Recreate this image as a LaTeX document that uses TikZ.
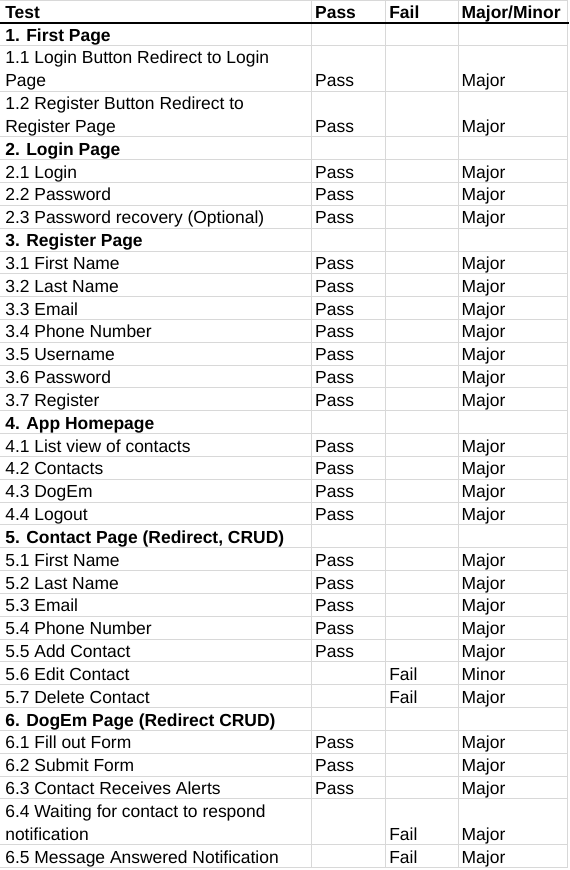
\documentclass[tikz,border=0pt]{standalone}
\usepackage{fontspec}
\setmainfont{Liberation Sans}
\definecolor{gridc}{RGB}{216,216,216}
\newcommand\Yb[1]{22.7+#1*22.83}
\tikzset{
  cell/.style={anchor=base west,inner sep=0pt,outer sep=0pt,align=left,
    font=\fontsize{17.45}{22.83}\selectfont,text=black},
  hcell/.style={cell,font=\fontsize{17.45}{22.83}\selectfont\bfseries},
  gridline/.style={draw=gridc,line width=1pt},
  headline/.style={draw=black,line width=2pt}
}
% section heading row
\newcommand\sect[3]{\node[hcell] (#1) at (5.3,{\Yb{#2}-4.4}) {#3};}
% pass row
\newcommand\prow[4]{%
  \node[cell] (#1t) at (5.3,{\Yb{#2}-4.4}) {#3};
  \node[cell] (#1p) at (315.2,{\Yb{#2}-4.4}) {Pass};
  \node[cell] (#1m) at (461.7,{\Yb{#2}-4.4}) {#4};}
% fail row
\newcommand\frow[4]{%
  \node[cell] (#1t) at (5.3,{\Yb{#2}-4.4}) {#3};
  \node[cell] (#1f) at (389.3,{\Yb{#2}-4.4}) {Fail};
  \node[cell] (#1m) at (461.7,{\Yb{#2}-4.4}) {#4};}
\begin{document}
\begin{tikzpicture}[x=1pt,y=-1pt]
\useasboundingbox (0,0) rectangle (570,870);
\fill[white] (0,0) rectangle (570,870);
% grid
\draw[gridline] (0,0.5) -- (567.7,0.5);
\foreach \k in {1,3,5,6,7,...,34,36,37}{
  \draw[gridline] (0,{\Yb{\k}}) -- (567.7,{\Yb{\k}});
}
\foreach \x in {311.7,385.7,458.3,567.7}{
  \draw[gridline] (\x,0) -- (\x,{\Yb{37}+0.5});
}
\draw[headline] (0,22.7) -- (568.5,22.7);
% header
\node[hcell] (hTest) at (5.3,18.3) {Test};
\node[hcell] (hPass) at (315.2,18.3) {Pass};
\node[hcell] (hFail) at (389.3,18.3) {Fail};
\node[hcell] (hMM) at (461.7,18.3) {Major/Minor};
% 1
\sect{s1}{1}{1. First Page}
\node[cell] (r11t) at (5.3,{\Yb{3}-4.4}) {1.1 Login Button Redirect to Login\\Page};
\node[cell] (r11p) at (315.2,{\Yb{3}-4.4}) {Pass};
\node[cell] (r11m) at (461.7,{\Yb{3}-4.4}) {Major};
\node[cell] (r12t) at (5.3,{\Yb{5}-4.4}) {1.2 Register Button Redirect to\\Register Page};
\node[cell] (r12p) at (315.2,{\Yb{5}-4.4}) {Pass};
\node[cell] (r12m) at (461.7,{\Yb{5}-4.4}) {Major};
% 2
\sect{s2}{6}{2. Login Page}
\prow{r21}{7}{2.1 Login}{Major}
\prow{r22}{8}{2.2 Password}{Major}
\prow{r23}{9}{2.3 Password recovery (Optional)}{Major}
% 3
\sect{s3}{10}{3. Register Page}
\prow{r31}{11}{3.1 First Name}{Major}
\prow{r32}{12}{3.2 Last Name}{Major}
\prow{r33}{13}{3.3 Email}{Major}
\prow{r34}{14}{3.4 Phone Number}{Major}
\prow{r35}{15}{3.5 Username}{Major}
\prow{r36}{16}{3.6 Password}{Major}
\prow{r37}{17}{3.7 Register}{Major}
% 4
\sect{s4}{18}{4. App Homepage}
\prow{r41}{19}{4.1 List view of contacts}{Major}
\prow{r42}{20}{4.2 Contacts}{Major}
\prow{r43}{21}{4.3 DogEm}{Major}
\prow{r44}{22}{4.4 Logout}{Major}
% 5
\sect{s5}{23}{5. Contact Page (Redirect, CRUD)}
\prow{r51}{24}{5.1 First Name}{Major}
\prow{r52}{25}{5.2 Last Name}{Major}
\prow{r53}{26}{5.3 Email}{Major}
\prow{r54}{27}{5.4 Phone Number}{Major}
\prow{r55}{28}{5.5 Add Contact}{Major}
\frow{r56}{29}{5.6 Edit Contact}{Minor}
\frow{r57}{30}{5.7 Delete Contact}{Major}
% 6
\sect{s6}{31}{6. DogEm Page (Redirect CRUD)}
\prow{r61}{32}{6.1 Fill out Form}{Major}
\prow{r62}{33}{6.2 Submit Form}{Major}
\prow{r63}{34}{6.3 Contact Receives Alerts}{Major}
\node[cell] (r64t) at (5.3,{\Yb{36}-4.4}) {6.4 Waiting for contact to respond\\notification};
\node[cell] (r64f) at (389.3,{\Yb{36}-4.4}) {Fail};
\node[cell] (r64m) at (461.7,{\Yb{36}-4.4}) {Major};
\frow{r65}{37}{6.5 Message Answered Notification}{Major}
\end{tikzpicture}
\end{document}
